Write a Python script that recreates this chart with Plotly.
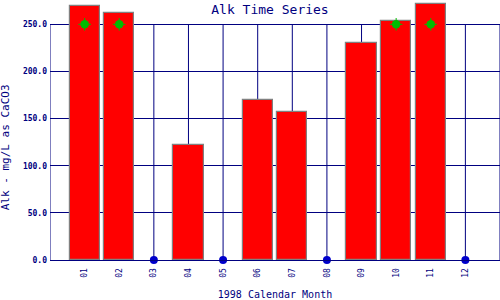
import plotly.graph_objects as go

months = [1, 2, 3, 4, 5, 6, 7, 8, 9, 10, 11, 12]
month_labels = ["01", "02", "03", "04", "05", "06", "07", "08", "09", "10", "11", "12"]
bar_months = [1, 2, 4, 6, 7, 9, 10, 11]
alk_values = [269.4, 261.7, 121.7, 169.4, 156.6, 229.8, 253.2, 271.2]
green_months = [1, 2, 10, 11]
green_values = [250, 250, 250, 250]
nodata_months = [3, 5, 8, 12]
nodata_values = [0, 0, 0, 0]
y_ticks = [0, 50, 100, 150, 200, 250]
grid_months = [0] + months + [13]

NAVY = "#000080"
FONT = "DejaVu Sans Mono"
Y_TOP = 250
Y_MAX = 275.8

fig = go.Figure()
fig.add_trace(go.Bar(
    x=bar_months, y=alk_values, width=0.87,
    marker=dict(color="#FF0000", line=dict(color="#808080", width=1.2)),
    showlegend=False,
))
fig.add_trace(go.Scatter(
    x=green_months, y=green_values, mode="markers",
    marker=dict(symbol="circle", size=8.5, color="#00BB00", line=dict(width=0)),
    cliponaxis=False, showlegend=False,
))
fig.add_trace(go.Scatter(
    x=green_months, y=green_values, mode="markers",
    marker=dict(symbol="cross-thin", size=9, color="#00BB00", line=dict(width=1, color="#00BB00")),
    cliponaxis=False, showlegend=False,
))
fig.add_trace(go.Scatter(
    x=nodata_months, y=nodata_values, mode="markers",
    marker=dict(symbol="circle", size=8, color="#0000CC", line=dict(width=0)),
    cliponaxis=False, showlegend=False,
))

# vertical grid lines limited to the 0..250 frame
for m in grid_months:
    fig.add_shape(type="line", xref="x", yref="y", x0=m, x1=m, y0=0, y1=Y_TOP,
                  line=dict(color=NAVY, width=1), layer="below")

fig.add_annotation(
    text="Alk - mg/L as CaCO3", textangle=-90, showarrow=False,
    xref="paper", yref="paper", x=-0.098, y=0.433, xanchor="center", yanchor="middle",
    font=dict(family=FONT, size=11, color=NAVY),
)

fig.update_layout(
    width=500, height=300,
    margin=dict(l=50, r=0, t=0, b=40),
    paper_bgcolor="white", plot_bgcolor="white",
    title=dict(text="Alk Time Series", x=0.54, xanchor="center", y=0.985, yanchor="top",
               font=dict(family=FONT, size=13, color=NAVY)),
    bargap=0,
)
fig.update_xaxes(
    range=[0, 13], tickmode="array", tickvals=months, ticktext=month_labels,
    tickangle=-90, tickfont=dict(family=FONT, size=8, color=NAVY),
    showgrid=False, showline=True, linecolor=NAVY, linewidth=1,
    ticks="", zeroline=False, ticklabelstandoff=4,
    title=dict(text="1998 Calendar Month", font=dict(family=FONT, size=10, color=NAVY), standoff=16),
)
fig.update_yaxes(
    range=[0, Y_MAX], tickmode="array", tickvals=y_ticks, tickformat=".1f",
    tickfont=dict(family=FONT, size=8, color=NAVY, weight="bold"),
    showgrid=True, gridcolor=NAVY, gridwidth=1,
    showline=False, ticks="", zeroline=False, ticklabelstandoff=2,
)
fig.write_html("out.html")
